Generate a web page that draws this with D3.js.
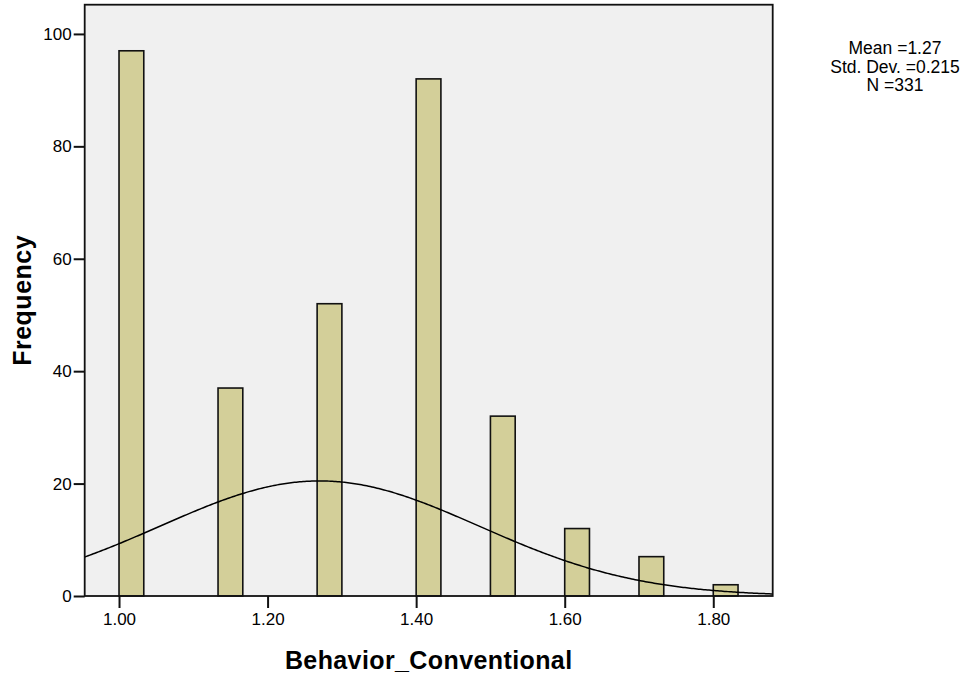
<!DOCTYPE html>
<html>
<head>
<meta charset="utf-8">
<script src="https://cdn.jsdelivr.net/npm/d3@7"></script>
<style>
  html, body { margin: 0; padding: 0; background: #ffffff; }
  svg { display: block; }
  text { font-family: "Liberation Sans", Arial, sans-serif; fill: #000; }
</style>
</head>
<body>
<svg id="chart" width="972" height="681"></svg>
<script>
// Histogram bins (lower edge of each bin) and their counts
const binStarts = [1.0, 1.1333, 1.2667, 1.4, 1.5, 1.6, 1.7, 1.8];
const counts    = [97, 37, 52, 92, 32, 12, 7, 2];
const binWidth  = 1 / 30;

// Summary statistics
const mean = 1.27;
const stdDev = 0.215;
const n = 331;
const statLines = ["Mean =1.27", "Std. Dev. =0.215", "N =331"];

// Axis ticks
const xTicks = [1.0, 1.2, 1.4, 1.6, 1.8];
const yTicks = [0, 20, 40, 60, 80, 100];
const xDomain = [0.9538, 1.88];
const yDomain = [0, 105.2];

const xTitle = "Behavior_Conventional";
const yTitle = "Frequency";

const margin = { left: 84.7, top: 4.7, right: 199.3, bottom: 85 };
const W = 972, H = 681;
const iw = W - margin.left - margin.right;
const ih = H - margin.top - margin.bottom;

const svg = d3.select("#chart");
const g = svg.append("g").attr("transform", `translate(${margin.left},${margin.top})`);

const x = d3.scaleLinear().domain(xDomain).range([0, iw]);
const y = d3.scaleLinear().domain(yDomain).range([ih, 0]);

// plot background
g.append("rect")
  .attr("x", 0).attr("y", 0).attr("width", iw).attr("height", ih)
  .attr("fill", "#f0f0f0");

g.append("clipPath").attr("id", "plotClip")
  .append("rect").attr("x", 0).attr("y", 0).attr("width", iw).attr("height", ih);

// bars
g.append("g").selectAll("rect")
  .data(binStarts.map((b, i) => ({ b, c: counts[i] })))
  .join("rect")
  .attr("x", d => x(d.b))
  .attr("y", d => y(d.c))
  .attr("width", d => x(d.b + binWidth) - x(d.b))
  .attr("height", d => y(0) - y(d.c))
  .attr("fill", "#d3cf99")
  .attr("stroke", "#111")
  .attr("stroke-width", 1.6);

// fitted normal curve scaled to counts
const pdf = v => Math.exp(-0.5 * ((v - mean) / stdDev) ** 2) / (stdDev * Math.sqrt(2 * Math.PI));
const curvePts = d3.range(0, 401).map(i => {
  const v = xDomain[0] + (xDomain[1] - xDomain[0]) * i / 400;
  return [v, n * binWidth * pdf(v)];
});
g.append("path")
  .datum(curvePts)
  .attr("clip-path", "url(#plotClip)")
  .attr("fill", "none")
  .attr("stroke", "#000")
  .attr("stroke-width", 1.5)
  .attr("d", d3.line().x(d => x(d[0])).y(d => y(d[1])));

// frame
g.append("rect")
  .attr("x", 0).attr("y", 0).attr("width", iw).attr("height", ih)
  .attr("fill", "none").attr("stroke", "#111").attr("stroke-width", 1.8);

// axes
const xAxis = g.append("g")
  .attr("transform", `translate(0,${ih})`)
  .call(d3.axisBottom(x).tickValues(xTicks).tickFormat(d3.format(".2f")).tickSize(12).tickPadding(5));
const yAxis = g.append("g")
  .call(d3.axisLeft(y).tickValues(yTicks).tickSize(11).tickPadding(2));

[xAxis, yAxis].forEach(a => {
  a.select(".domain").remove();
  a.selectAll(".tick line").attr("stroke", "#111").attr("stroke-width", 2);
  a.selectAll(".tick text")
    .style("font-family", '"Liberation Sans", Arial, sans-serif')
    .style("font-size", "17px").attr("fill", "#000");
});

// axis titles
svg.append("text")
  .attr("x", margin.left + iw / 2).attr("y", 669)
  .attr("text-anchor", "middle")
  .style("font-size", "25px").style("font-weight", "bold")
  .style("letter-spacing", "0.4px")
  .text(xTitle);

svg.append("text")
  .attr("transform", `translate(31,${margin.top + ih / 2}) rotate(-90)`)
  .attr("text-anchor", "middle")
  .style("font-size", "25px").style("font-weight", "bold")
  .style("letter-spacing", "0.5px")
  .text(yTitle);

// statistics block
svg.append("g").selectAll("text")
  .data(statLines)
  .join("text")
  .attr("x", 895)
  .attr("y", (d, i) => 54.3 + i * 18.2)
  .attr("text-anchor", "middle")
  .style("font-size", "17.5px")
  .text(d => d);
</script>
</body>
</html>
